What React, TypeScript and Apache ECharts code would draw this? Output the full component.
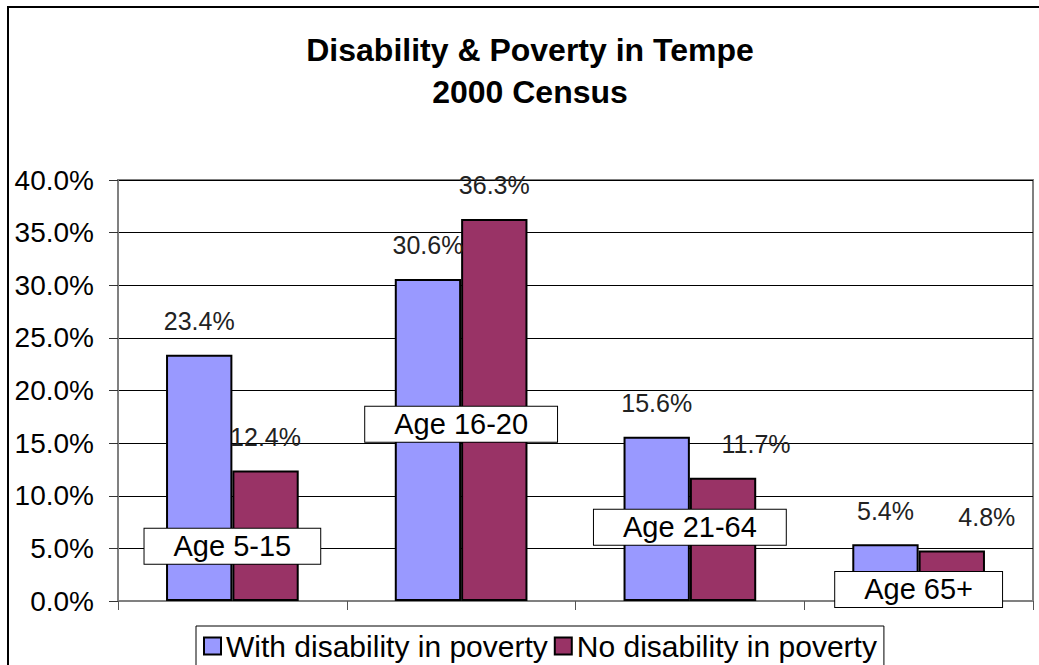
import React, { useEffect, useRef } from "react";
import * as echarts from "echarts";

const categories = ["Age 5-15", "Age 16-20", "Age 21-64", "Age 65+"];
const withDisability = [23.4, 30.6, 15.6, 5.4];
const noDisability = [12.4, 36.3, 11.7, 4.8];
// vertical level (in %) where each category text box sits
const categoryLabelLevels = [5.2, 16.8, 7.0, 1.1];
const seriesNames = ["With disability in poverty", "No disability in poverty"];
const yMin = 0;
const yMax = 40;
const yInterval = 5;

// horizontal shifts (px) of the "No disability" value labels, as in the original
const noDisabilityLabelShift = [0, 0, 33, 35];

const FONT = "'Liberation Sans', Arial, sans-serif";

export default function App() {
  const ref = useRef<HTMLDivElement>(null);
  useEffect(() => {
    if (!ref.current) return;
    const chart = echarts.init(ref.current, null, { renderer: "svg" });
    const valueLabel = {
      show: true,
      position: "top",
      distance: 21,
      fontFamily: FONT,
      fontSize: 25,
      color: "#222",
      formatter: (p: any) => `${Number(p.value).toFixed(1)}%`,
    };
    chart.setOption({
      animation: false,
      backgroundColor: "#fff",
      textStyle: { fontFamily: FONT },
      title: {
        text: "Disability & Poverty in Tempe\n2000 Census",
        left: 530,
        top: 29,
        textAlign: "center",
        padding: 0,
        textStyle: {
          fontFamily: FONT,
          fontWeight: "bold",
          fontSize: 32,
          lineHeight: 42,
          color: "#000",
        },
      },
      graphic: [
        {
          type: "rect",
          shape: { x: 8, y: 7, width: 1200, height: 800 },
          style: { fill: "none", stroke: "#000", lineWidth: 2 },
          silent: true,
          z: 100,
        },
      ],
      legend: {
        data: seriesNames,
        left: 196,
        top: 626,
        padding: [5, 7, 20, 7],
        itemWidth: 17,
        itemHeight: 17,
        itemGap: 6,
        icon: "rect",
        backgroundColor: "#fff",
        borderColor: "#000",
        borderWidth: 1,
        textStyle: { fontFamily: FONT, fontSize: 30, color: "#000" },
      },
      grid: {
        left: 118,
        top: 180,
        right: 6,
        bottom: 64,
        show: true,
        borderColor: "#808080",
        borderWidth: 2,
        containLabel: false,
      },
      xAxis: {
        type: "category",
        data: categories,
        axisLabel: { show: false },
        axisLine: { lineStyle: { color: "#808080", width: 2 } },
        axisTick: { show: true, length: 9, alignWithLabel: false, lineStyle: { color: "#555" } },
        splitLine: { show: false },
      },
      yAxis: {
        type: "value",
        min: yMin,
        max: yMax,
        interval: yInterval,
        axisLine: { show: true, lineStyle: { color: "#808080", width: 2 } },
        axisTick: { show: true, length: 9, lineStyle: { color: "#333" } },
        axisLabel: {
          margin: 24,
          fontFamily: FONT,
          fontSize: 28,
          color: "#000",
          formatter: (v: number) => `${v.toFixed(1)}%`,
        },
        splitLine: { show: true, lineStyle: { color: "#000", width: 1 } },
      },
      series: [
        {
          name: seriesNames[0],
          type: "bar",
          data: withDisability,
          barGap: "0%",
          barCategoryGap: "42%",
          itemStyle: { color: "#9999FF", borderColor: "#000", borderWidth: 2 },
          label: valueLabel,
          z: 2,
        },
        {
          name: seriesNames[1],
          type: "bar",
          data: noDisability.map((v, i) => ({
            value: v,
            label: { offset: [noDisabilityLabelShift[i], 0] },
          })),
          barGap: "0%",
          barCategoryGap: "42%",
          itemStyle: { color: "#993366", borderColor: "#000", borderWidth: 2 },
          label: valueLabel,
          z: 2,
        },
        {
          name: "category boxes",
          type: "scatter",
          data: categoryLabelLevels.map((v, i) => [i, v]),
          symbolSize: 1,
          itemStyle: { color: "rgba(0,0,0,0)", opacity: 1 },
          silent: true,
          z: 10,
          label: {
            show: true,
            position: "inside",
            opacity: 1,
            formatter: (p: any) => categories[p.dataIndex],
            fontFamily: FONT,
            fontSize: 29,
            color: "#000",
            backgroundColor: "#fff",
            borderColor: "#000",
            borderWidth: 1,
            padding: [3, 29],
          },
          emphasis: { disabled: true },
        },
      ],
    });
    return () => chart.dispose();
  }, []);
  return (
    <div
      ref={ref}
      style={{ position: "fixed", left: 0, top: 0, width: 1039, height: 665 }}
    />
  );
}
